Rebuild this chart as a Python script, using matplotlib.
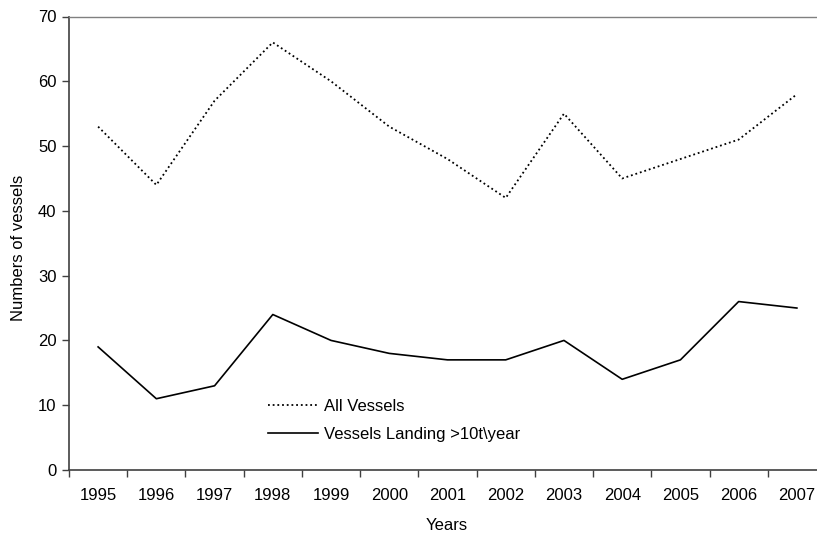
import matplotlib
matplotlib.use('Agg')
import matplotlib.pyplot as plt
import numpy as np

plt.rcParams['font.family'] = ['Liberation Sans', 'DejaVu Sans']

years = ['1995', '1996', '1997', '1998', '1999', '2000', '2001',
         '2002', '2003', '2004', '2005', '2006', '2007']
all_vessels = [53, 44, 57, 66, 60, 53, 48, 42, 55, 45, 48, 51, 58]
landing_10t = [19, 11, 13, 24, 20, 18, 17, 17, 20, 14, 17, 26, 25]

fig = plt.figure(figsize=(8.17, 5.39), dpi=100)
ax = fig.add_axes([69 / 817, 1 - 470 / 539, 757 / 817, 453.5 / 539])

x = np.arange(len(years))
ax.plot(x, all_vessels, color='black', linestyle=(0, (1, 1.6)), linewidth=1.3,
        label='All Vessels')
ax.plot(x, landing_10t, color='black', linestyle='-', linewidth=1.2,
        label='Vessels Landing >10t\\year')

ax.set_xlim(-0.5, len(years) - 0.5)
ax.set_ylim(0, 70)
ax.set_yticks(range(0, 71, 10))

# year labels sit between the tick marks, ticks on category boundaries
ax.set_xticks(x)
ax.set_xticklabels(years)
ax.set_xticks(np.arange(-0.5, len(years), 1), minor=True)
ax.tick_params(axis='x', which='major', length=0, pad=13, labelsize=12)
ax.tick_params(axis='x', which='minor', length=5, width=1, color='#404040')
ax.tick_params(axis='y', length=5, width=1, color='#404040', pad=4, labelsize=12)

for side in ['left', 'bottom']:
    ax.spines[side].set_color('#404040')
    ax.spines[side].set_linewidth(1.2)
ax.spines['top'].set_color('#808080')
ax.spines['top'].set_linewidth(1)
ax.spines['right'].set_visible(False)

ax.set_xlabel('Years', fontsize=12)
ax.set_ylabel('Numbers of vessels', fontsize=12)
ax.xaxis.set_label_coords((447 - 69) / 757, -0.105)
ax.yaxis.set_label_coords(-0.057, 0.49)

ax.legend(loc='upper left', bbox_to_anchor=(0.263, 0.156), frameon=False,
          fontsize=12, handlelength=3.0, handletextpad=0.35, labelspacing=0.78,
          borderpad=0, borderaxespad=0)

fig.savefig('out.png', dpi=100)
